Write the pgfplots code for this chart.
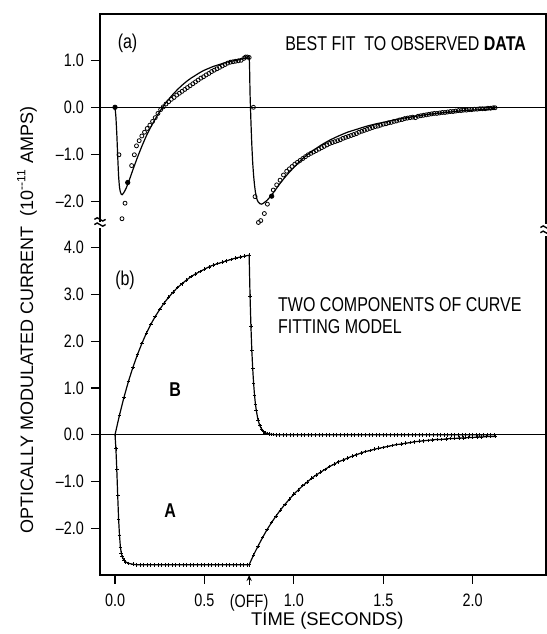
\documentclass[border=0pt]{standalone}
\usepackage{pgfplots}
\pgfplotsset{compat=1.18}
\usetikzlibrary{arrows.meta}
\usepackage{fontspec}
\setmainfont{Liberation Sans}[FakeStretch=0.8]
\newfontfamily\widefont{Liberation Sans}
\begin{document}
\begin{tikzpicture}[x=1pt,y=1pt]
\path[use as bounding box] (0,0) rectangle (273.5,317);
% ---------------- bottom panel (b) ----------------
\begin{axis}[
 at={(50pt,29.5pt)}, anchor=south west, scale only axis,
 width=223pt, height=176.5pt,
 xmin=-0.084, xmax=2.41, ymin=-3.0, ymax=4.55,
 axis line style={draw=none},
 tick align=outside, major tick length=4.5pt,
 xtick={0,0.5,1,1.5,2}, xticklabels={0.0,0.5,1.0,1.5,2.0},
 ytick={-2,-1,0,1,2,3,4}, yticklabels={–2.0,–1.0,0.0,1.0,2.0,3.0,4.0},
 ytick pos=left, xtick pos=bottom,
 tick style={black, line width=0.6pt},
 ticklabel style={font=\fontsize{9}{10}\selectfont},
 xticklabel style={yshift=-1.5pt},
 extra x ticks={0.75}, extra x tick labels={(OFF)},
 extra x tick style={tick style={draw=none}},
 clip=false,
]
\draw[line width=0.8pt] (rel axis cs:0,1) -- (rel axis cs:0,0) -- (rel axis cs:1,0) -- (rel axis cs:1,1);
\addplot[black, line width=0.5pt] coordinates {(-0.084,0) (2.41,0)};
% component B
\addplot[black, line width=0.6pt, mark=+, mark size=0.9pt, mark options={line width=0.35pt}] coordinates {
(0,0) (0.025,0.42) (0.05,0.80) (0.075,1.14) (0.1,1.44) (0.125,1.71) (0.15,1.95) (0.175,2.17)
(0.2,2.36) (0.225,2.53) (0.25,2.68) (0.275,2.82) (0.3,2.94) (0.325,3.05) (0.35,3.15) (0.375,3.23)
(0.4,3.31) (0.425,3.38) (0.45,3.44) (0.475,3.49) (0.5,3.54) (0.525,3.59) (0.55,3.63) (0.575,3.66)
(0.6,3.69) (0.625,3.72) (0.65,3.75) (0.675,3.78) (0.7,3.80) (0.725,3.82) (0.75,3.84)
(0.755,2.97) (0.76,2.32) (0.765,1.80) (0.77,1.41) (0.775,1.10) (0.78,0.85) (0.785,0.66) (0.79,0.52)
(0.8,0.31) (0.81,0.19) (0.82,0.12) (0.83,0.07) (0.84,0.04) (0.85,0.03) (0.8625,0.015) (0.875,0.007)
(0.8875,0.003) (0.9,0) (0.92,0) (0.94,0) (0.96,0) (0.98,0) (1.0,0) (1.02,0) (1.04,0) (1.06,0) (1.08,0)
(1.1,0) (1.12,0) (1.14,0) (1.16,0) (1.18,0) (1.2,0) (1.22,0) (1.24,0) (1.26,0) (1.28,0) (1.3,0)
(1.32,0) (1.34,0) (1.36,0) (1.38,0) (1.4,0) (1.42,0) (1.44,0) (1.46,0) (1.48,0) (1.5,0) (1.52,0)
(1.54,0) (1.56,0) (1.58,0) (1.6,0) (1.62,0) (1.64,0) (1.66,0) (1.68,0) (1.7,0) (1.72,0) (1.74,0)
(1.76,0) (1.78,0) (1.8,0) (1.82,0) (1.84,0) (1.86,0) (1.88,0) (1.9,0) (1.92,0) (1.94,0) (1.96,0)
(1.98,0) (2.0,0) (2.02,0) (2.04,0) (2.06,0) (2.08,0) (2.1,0) (2.12,0)
};
% component A
\addplot[black, line width=0.6pt, mark=+, mark size=0.9pt, mark options={line width=0.35pt}] coordinates {
(0,0) (0.005,-0.3) (0.01,-0.75) (0.015,-1.3) (0.02,-1.8) (0.025,-2.15) (0.03,-2.4) (0.035,-2.53)
(0.04,-2.61) (0.05,-2.68) (0.06,-2.72) (0.075,-2.75) (0.1,-2.77) (0.12,-2.78) (0.14,-2.78)
(0.16,-2.78) (0.18,-2.78) (0.2,-2.78) (0.22,-2.78) (0.24,-2.78) (0.26,-2.78) (0.28,-2.78)
(0.3,-2.78) (0.32,-2.78) (0.34,-2.78) (0.36,-2.78) (0.38,-2.78) (0.4,-2.78) (0.42,-2.78)
(0.44,-2.78) (0.46,-2.78) (0.48,-2.78) (0.5,-2.78) (0.52,-2.78) (0.54,-2.78) (0.56,-2.78)
(0.58,-2.78) (0.6,-2.78) (0.62,-2.78) (0.64,-2.78) (0.66,-2.78) (0.68,-2.78) (0.7,-2.78)
(0.72,-2.78) (0.74,-2.78) (0.75,-2.78)
(0.775,-2.57) (0.8,-2.38) (0.825,-2.2) (0.85,-2.03) (0.875,-1.88) (0.9,-1.74) (0.925,-1.61)
(0.95,-1.49) (0.975,-1.38) (1.0,-1.27) (1.025,-1.18) (1.05,-1.09) (1.075,-1.01) (1.1,-0.93)
(1.125,-0.86) (1.15,-0.80) (1.175,-0.74) (1.2,-0.68) (1.225,-0.63) (1.25,-0.58) (1.275,-0.54)
(1.3,-0.50) (1.325,-0.46) (1.35,-0.43) (1.375,-0.39) (1.4,-0.36) (1.425,-0.34) (1.45,-0.31)
(1.475,-0.29) (1.5,-0.27) (1.525,-0.25) (1.55,-0.23) (1.575,-0.21) (1.6,-0.20) (1.625,-0.18)
(1.65,-0.17) (1.675,-0.15) (1.7,-0.14) (1.725,-0.13) (1.75,-0.12) (1.775,-0.11) (1.8,-0.10)
(1.825,-0.10) (1.85,-0.09) (1.875,-0.08) (1.9,-0.08) (1.925,-0.07) (1.95,-0.07) (1.975,-0.06)
(2.0,-0.06) (2.025,-0.05) (2.05,-0.05) (2.075,-0.04) (2.1,-0.04) (2.125,-0.04)
};
\draw[-{Stealth[length=3pt,width=2.6pt]}, line width=0.6pt] ([yshift=-5pt]axis cs:0.75,-3) -- (axis cs:0.75,-3);
\node[font=\fontsize{10}{11}\selectfont] at (axis cs:0.056,3.31) {(b)};
\node[font=\fontsize{10}{11}\selectfont, anchor=west, align=left] at (axis cs:0.873,2.54) {TWO COMPONENTS OF CURVE\\FITTING MODEL};
\node[font=\fontsize{10}{11}\selectfont\bfseries] at (axis cs:0.336,0.96) {B};
\node[font=\fontsize{10}{11}\selectfont\bfseries] at (axis cs:0.308,-1.62) {A};
% axis break marks
\fill[white] ([xshift=-3pt,yshift=-3pt]rel axis cs:0,1) rectangle ([xshift=3pt,yshift=3pt]rel axis cs:0,1);
\draw[line width=0.7pt] ([xshift=-2.8pt,yshift=1.3pt]rel axis cs:0,1) sin ++(1.4pt,0.8pt) cos ++(1.4pt,-0.8pt) sin ++(1.4pt,-0.8pt) cos ++(1.4pt,0.8pt);
\draw[line width=0.7pt] ([xshift=-2.8pt,yshift=-1.3pt]rel axis cs:0,1) sin ++(1.4pt,0.8pt) cos ++(1.4pt,-0.8pt) sin ++(1.4pt,-0.8pt) cos ++(1.4pt,0.8pt);
\fill[white] ([xshift=-3pt,yshift=-3pt]rel axis cs:1,0.977) rectangle ([xshift=3pt,yshift=3pt]rel axis cs:1,0.977);
\draw[line width=0.7pt] ([xshift=-2.8pt,yshift=1.3pt]rel axis cs:1,0.977) sin ++(1.4pt,0.8pt) cos ++(1.4pt,-0.8pt) sin ++(1.4pt,-0.8pt) cos ++(1.4pt,0.8pt);
\draw[line width=0.7pt] ([xshift=-2.8pt,yshift=-1.3pt]rel axis cs:1,0.977) sin ++(1.4pt,0.8pt) cos ++(1.4pt,-0.8pt) sin ++(1.4pt,-0.8pt) cos ++(1.4pt,0.8pt);
\end{axis}
% ---------------- top panel (a) ----------------
\begin{axis}[
 at={(50pt,206pt)}, anchor=south west, scale only axis,
 width=223pt, height=104pt,
 xmin=-0.084, xmax=2.41, ymin=-2.44, ymax=1.985,
 axis line style={draw=none},
 tick align=outside, major tick length=4.5pt,
 xtick=\empty,
 ytick={-2,-1,0,1}, yticklabels={–2.0,–1.0,0.0,1.0},
 ytick pos=left,
 tick style={black, line width=0.6pt},
 ticklabel style={font=\fontsize{9}{10}\selectfont},
 clip=false,
]
\draw[line width=0.8pt] (rel axis cs:0,0) -- (rel axis cs:0,1) -- (rel axis cs:1,1) -- (rel axis cs:1,0);
\addplot[black, line width=0.5pt] coordinates {(-0.084,0) (2.41,0)};
% best fit curve
\addplot[black, line width=0.6pt, smooth, tension=0.3] coordinates {
(0,0) (0.005,-0.21) (0.01,-0.57) (0.015,-1.04) (0.02,-1.46) (0.025,-1.70) (0.03,-1.80) (0.035,-1.85)
(0.04,-1.86) (0.05,-1.81) (0.06,-1.74) (0.075,-1.6) (0.1,-1.33) (0.125,-1.07) (0.15,-0.83)
(0.175,-0.61) (0.2,-0.42) (0.225,-0.25) (0.25,-0.09) (0.275,0.05) (0.3,0.17) (0.325,0.28)
(0.35,0.38) (0.375,0.47) (0.4,0.55) (0.425,0.62) (0.45,0.68) (0.475,0.74) (0.5,0.79) (0.525,0.83)
(0.55,0.87) (0.575,0.9) (0.6,0.93) (0.625,0.96) (0.65,0.98) (0.675,1.0) (0.7,1.02) (0.725,1.04)
(0.75,1.06) (0.755,0.3) (0.76,-0.3) (0.765,-0.8) (0.77,-1.18) (0.775,-1.45) (0.78,-1.65)
(0.785,-1.8) (0.79,-1.9) (0.795,-1.97) (0.8,-2.01) (0.81,-2.05) (0.82,-2.06) (0.83,-2.04)
(0.84,-2.01) (0.85,-1.98) (0.875,-1.87) (0.9,-1.74) (0.925,-1.61) (0.95,-1.49) (0.975,-1.38)
(1.0,-1.28) (1.025,-1.18) (1.05,-1.09) (1.075,-1.01) (1.1,-0.94) (1.15,-0.81) (1.2,-0.7)
(1.25,-0.61) (1.3,-0.53) (1.35,-0.47) (1.4,-0.41) (1.45,-0.36) (1.5,-0.32) (1.55,-0.28)
(1.6,-0.24) (1.65,-0.21) (1.7,-0.18) (1.75,-0.15) (1.8,-0.13) (1.85,-0.11) (1.9,-0.09)
(1.95,-0.07) (2.0,-0.06) (2.05,-0.05) (2.1,-0.04) (2.125,-0.03)
};
% observed data (circles)
\addplot[only marks, mark=o, mark size=1pt, mark options={line width=0.4pt}] coordinates {
(0.022,-1.01) (0.039,-2.37) (0.056,-2.04) (0.093,-1.24) (0.108,-1.01) (0.12,-0.82) (0.135,-0.71)
(0.15,-0.61) (0.165,-0.53) (0.18,-0.45) (0.195,-0.38) (0.21,-0.3) (0.225,-0.22) (0.24,-0.13)
(0.255,-0.05) (0.27,0.01) (0.285,0.07) (0.3,0.12) (0.315,0.17) (0.33,0.21) (0.345,0.26) (0.36,0.3)
(0.375,0.34) (0.39,0.38) (0.405,0.42) (0.42,0.46) (0.435,0.5) (0.45,0.54) (0.465,0.58) (0.48,0.62)
(0.495,0.65) (0.51,0.69) (0.525,0.72) (0.54,0.76) (0.555,0.79) (0.57,0.82) (0.585,0.85) (0.6,0.88)
(0.615,0.91) (0.63,0.94) (0.645,0.96) (0.66,0.97) (0.675,0.98) (0.69,0.99) (0.705,1.0) (0.72,1.04)
(0.73,1.07) (0.74,1.07) (0.75,1.06)
(0.774,0.0) (0.783,-1.9) (0.802,-2.45) (0.815,-2.41) (0.835,-2.26) (0.852,-2.06) (0.885,-1.76)
(0.904,-1.65) (0.923,-1.55) (0.942,-1.44) (0.96,-1.36) (0.975,-1.31) (0.99,-1.26) (1.005,-1.21)
(1.02,-1.17) (1.035,-1.13) (1.05,-1.09) (1.065,-1.05) (1.08,-1.01) (1.095,-0.98) (1.11,-0.95)
(1.125,-0.92) (1.14,-0.89) (1.155,-0.86) (1.17,-0.83) (1.185,-0.8) (1.2,-0.77) (1.215,-0.75)
(1.23,-0.73) (1.245,-0.71) (1.26,-0.69) (1.275,-0.66) (1.29,-0.64) (1.305,-0.62) (1.32,-0.6)
(1.335,-0.58) (1.35,-0.56) (1.365,-0.53) (1.38,-0.51) (1.395,-0.49) (1.41,-0.47) (1.425,-0.45)
(1.44,-0.43) (1.455,-0.41) (1.47,-0.4) (1.485,-0.38) (1.5,-0.36) (1.515,-0.35) (1.53,-0.33)
(1.545,-0.32) (1.56,-0.3) (1.575,-0.29) (1.59,-0.27) (1.605,-0.26) (1.62,-0.24) (1.635,-0.23)
(1.65,-0.22) (1.665,-0.21) (1.68,-0.22) (1.695,-0.19) (1.71,-0.18) (1.725,-0.17) (1.74,-0.16)
(1.755,-0.15) (1.77,-0.14) (1.785,-0.13) (1.8,-0.13) (1.815,-0.12) (1.83,-0.11) (1.845,-0.11)
(1.86,-0.1) (1.875,-0.09) (1.89,-0.09) (1.905,-0.08) (1.92,-0.07) (1.935,-0.07) (1.95,-0.06)
(1.965,-0.06) (1.98,-0.05) (1.995,-0.05) (2.01,-0.04) (2.025,-0.04) (2.04,-0.03) (2.055,-0.03)
(2.07,-0.03) (2.085,-0.02) (2.1,-0.02) (2.115,-0.01) (2.125,-0.01)
};
\addplot[only marks, mark=*, mark size=1.1pt] coordinates {(0,0) (0.071,-1.6) (0.876,-1.89)};
\node[font=\fontsize{10}{11}\selectfont] at (axis cs:0.07,1.37) {(a)};
\node[font=\fontsize{10}{11}\selectfont] at (axis cs:1.625,1.36) {BEST FIT\ \ TO OBSERVED \textbf{DATA}};
\end{axis}
\node[rotate=90, anchor=base, font=\widefont\fontsize{9}{10}\selectfont] at (16.5,157) {OPTICALLY MODULATED CURRENT\ \ (10\textsuperscript{--11} AMPS)};
\node[font=\widefont\fontsize{9.2}{10}\selectfont] at (163.7,6.5) {TIME (SECONDS)};
\end{tikzpicture}
\end{document}
